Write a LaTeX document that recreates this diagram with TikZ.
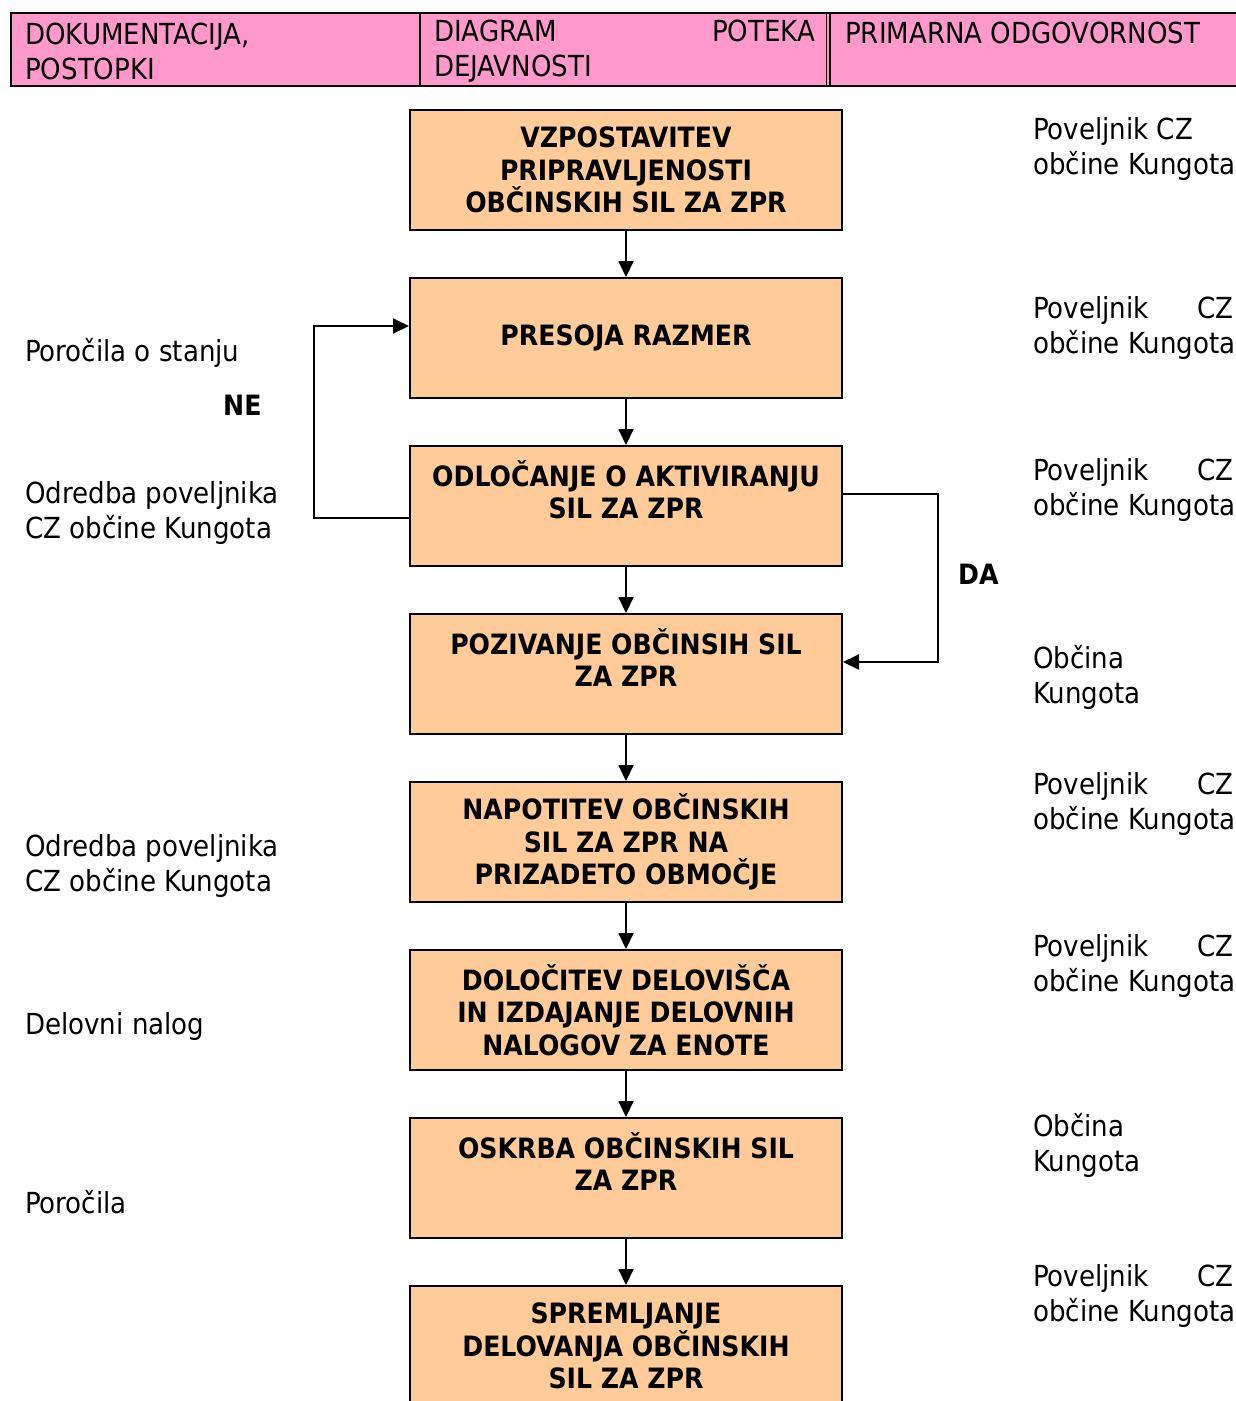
\documentclass[tikz,border=0pt]{standalone}
\usepackage{fontspec}
\setmainfont{DejaVu Sans Condensed}
\usetikzlibrary{arrows.meta}
\definecolor{headpink}{HTML}{FF99CC}
\definecolor{boxpeach}{HTML}{FFCC99}
\newcommand\twoends[3]{\hbox to #1{#2\hfill #3}}
\tikzset{
  stepbox/.style={draw=black, line width=2pt, fill=boxpeach, minimum width=432pt,
    minimum height=120pt, align=center, inner sep=0pt,
    font=\bfseries\fontsize{28}{32.5}\selectfont},
  flow/.style={line width=2pt, -{Triangle[length=16pt,width=15pt]}},
  side/.style={anchor=west, align=left, inner sep=0pt, font=\fontsize{29}{35}\selectfont},
  mark label/.style={anchor=west, inner sep=0pt, font=\bfseries\fontsize{28}{34}\selectfont},
}
\begin{document}
\begin{tikzpicture}[x=1pt, y=-1pt]
    \useasboundingbox (0,0) rectangle (1236,1401);

    % header
    \fill[headpink] (11,13) rectangle (1250,86);
    \draw[black, line width=2pt] (1250,13) -- (11,13) -- (11,86) -- (1250,86);
    \draw[black, line width=1.5pt] (420,13) -- (420,86);
    \draw[black, line width=1pt] (826,13) -- (826,86);
    \draw[black, line width=1.5pt] (830,13) -- (830,86);
    \node[side] (hdoc) at (25,51) {DOKUMENTACIJA,\\POSTOPKI};
    \node[side] (hflow) at (434,51) {\twoends{381pt}{DIAGRAM}{POTEKA}\\DEJAVNOSTI};
    \node[side] (hresp) at (845,33) {PRIMARNA ODGOVORNOST};

    % steps
    \node[stepbox] (b1) at (626,170) {VZPOSTAVITEV\\PRIPRAVLJENOSTI\\OBČINSKIH SIL ZA ZPR};
    \node[stepbox] (b2) at (626,338) {PRESOJA RAZMER};
    \node[stepbox] (b3) at (626,506) {ODLOČANJE O AKTIVIRANJU\\SIL ZA ZPR\\\mbox{}};
    \node[stepbox] (b4) at (626,674) {POZIVANJE OBČINSIH SIL\\ZA ZPR\\\mbox{}};
    \node[stepbox] (b5) at (626,842) {NAPOTITEV OBČINSKIH\\SIL ZA ZPR NA\\PRIZADETO OBMOČJE};
    \node[stepbox] (b6) at (626,1010) {DOLOČITEV DELOVIŠČA\\IN IZDAJANJE DELOVNIH\\NALOGOV ZA ENOTE};
    \node[stepbox] (b7) at (626,1178) {OSKRBA OBČINSKIH SIL\\ZA ZPR\\\mbox{}};
    \node[stepbox] (b8) at (626,1346) {SPREMLJANJE\\DELOVANJA OBČINSKIH\\SIL ZA ZPR};

    \foreach \a/\b in {b1/b2, b2/b3, b3/b4, b4/b5, b5/b6, b6/b7, b7/b8}
        \draw[flow] (\a.south) -- (\b.north);

    % NE / DA branches
    \coordinate (neturn) at (314,326);
    \coordinate (daturn) at (938,494);
    \draw[flow] ([yshift=-12pt]b3.west) -| (neturn) -- (neturn -| b2.west);
    \draw[flow] ([yshift=12pt]b3.east) -- (daturn) |- ([yshift=12pt]b4.east);
    \node[mark label] (ne) at (223,405) {NE};
    \node[mark label] (da) at (958,574) {DA};

    % documents
    \node[side] (d2) at (25,353) {Poročila o stanju};
    \node[side] (d3) at (25,513) {Odredba poveljnika\\CZ občine Kungota};
    \node[side] (d5) at (25,866) {Odredba poveljnika\\CZ občine Kungota};
    \node[side] (d6) at (25,1026) {Delovni nalog};
    \node[side] (d7) at (25,1202) {Poročila};

    % responsibility
    \node[side] (r1) at (1033,149) {Poveljnik CZ\\občine Kungota};
    \node[side] (r2) at (1033,328) {\twoends{200pt}{Poveljnik}{CZ}\\občine Kungota};
    \node[side] (r3) at (1033,490) {\twoends{200pt}{Poveljnik}{CZ}\\občine Kungota};
    \node[side] (r4) at (1033,677) {Občina\\Kungota};
    \node[side] (r5) at (1033,804) {\twoends{200pt}{Poveljnik}{CZ}\\občine Kungota};
    \node[side] (r6) at (1033,966) {\twoends{200pt}{Poveljnik}{CZ}\\občine Kungota};
    \node[side] (r7) at (1033,1145) {Občina\\Kungota};
    \node[side] (r8) at (1033,1296) {\twoends{200pt}{Poveljnik}{CZ}\\občine Kungota};
\end{tikzpicture}
\end{document}
